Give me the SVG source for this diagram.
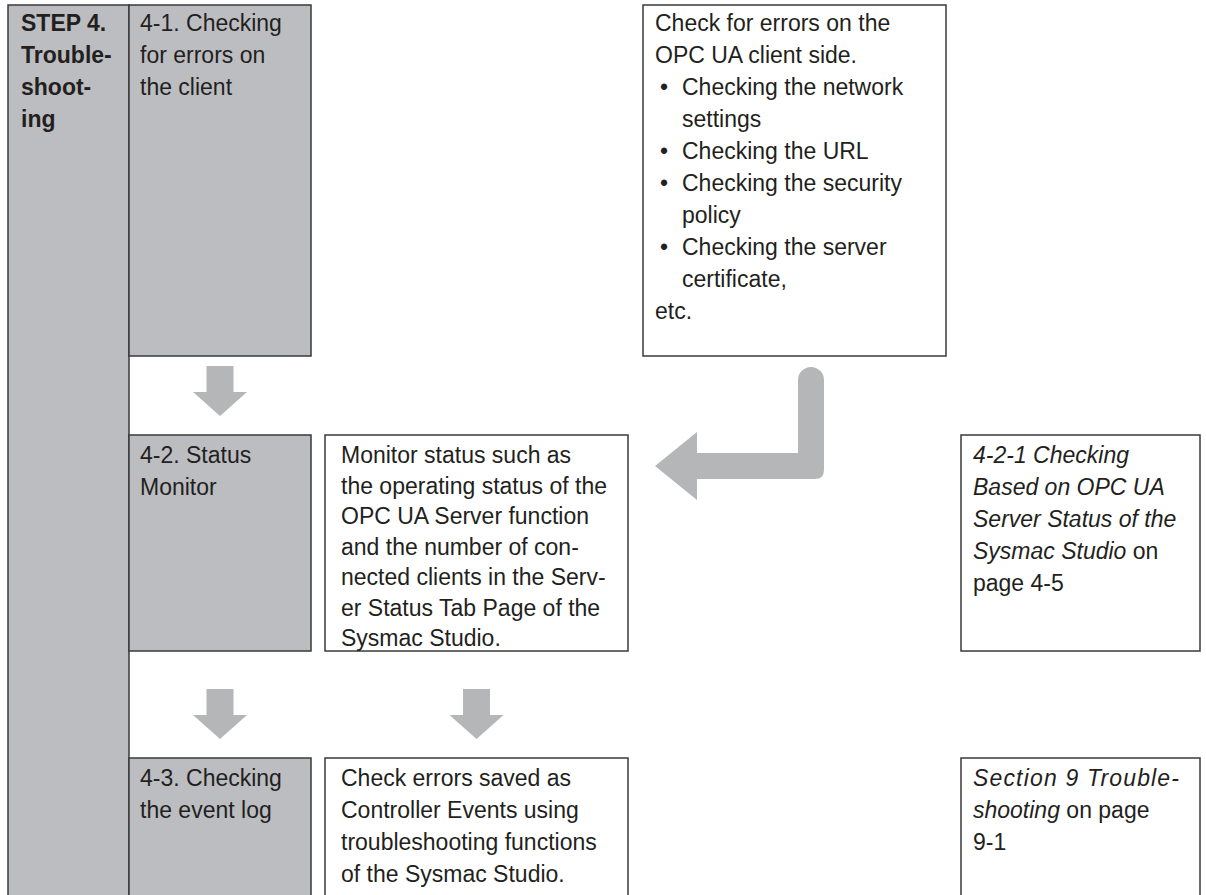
<svg xmlns="http://www.w3.org/2000/svg" width="1206" height="895" viewBox="0 0 1206 895">
<style>
.g{fill:#bcbdc1;stroke:#3a3a3a;stroke-width:1.5}
.w{fill:#ffffff;stroke:#3a3a3a;stroke-width:1.5}
.t{font-family:"Liberation Sans",Arial,sans-serif;font-size:23px;fill:#231f20}
.b{font-weight:bold}
.i{font-style:italic}
.ar{fill:#b5b6b8}
</style>
<rect width="1206" height="895" fill="#ffffff"/>
<g id="step4">
<rect class="g" x="8" y="5" width="121" height="910"/>
<text class="t b" x="21" y="31">STEP 4.</text>
<text class="t b" x="21" y="63">Trouble-</text>
<text class="t b" x="21" y="95">shoot-</text>
<text class="t b" x="21" y="127">ing</text>
</g>
<g id="n41">
<rect class="g" x="129" y="5" width="182" height="351"/>
<text class="t" x="140" y="31">4-1. Checking</text>
<text class="t" x="140" y="63">for errors on</text>
<text class="t" x="140" y="95">the client</text>
</g>
<g id="client">
<rect class="w" x="643" y="5" width="303" height="351"/>
<text class="t" x="655" y="31">Check for errors on the</text>
<text class="t" x="655" y="63">OPC UA client side.</text>
<text class="t" x="660" y="95">•</text><text class="t" x="682" y="95">Checking the network</text>
<text class="t" x="682" y="127">settings</text>
<text class="t" x="660" y="159">•</text><text class="t" x="682" y="159">Checking the URL</text>
<text class="t" x="660" y="191">•</text><text class="t" x="682" y="191">Checking the security</text>
<text class="t" x="682" y="223">policy</text>
<text class="t" x="660" y="255">•</text><text class="t" x="682" y="255">Checking the server</text>
<text class="t" x="682" y="287">certificate,</text>
<text class="t" x="655" y="319">etc.</text>
</g>
<g id="n42">
<rect class="g" x="129" y="435" width="182" height="216"/>
<text class="t" x="140" y="463">4-2. Status</text>
<text class="t" x="140" y="495">Monitor</text>
</g>
<g id="monitor">
<rect class="w" x="325" y="435" width="303" height="216"/>
<text class="t" x="341" y="463">Monitor status such as</text>
<text class="t" x="341" y="493.5">the operating status of the</text>
<text class="t" x="341" y="524">OPC UA Server function</text>
<text class="t" x="341" y="554.5">and the number of con-</text>
<text class="t" x="341" y="585">nected clients in the Serv-</text>
<text class="t" x="341" y="615.5">er Status Tab Page of the</text>
<text class="t" x="341" y="646">Sysmac Studio.</text>
</g>
<g id="ref421">
<rect class="w" x="961" y="435" width="239" height="216"/>
<text class="t i" x="973" y="463">4-2-1 Checking</text>
<text class="t i" x="973" y="495">Based on OPC UA</text>
<text class="t i" x="973" y="527">Server Status of the</text>
<text class="t" x="973" y="559"><tspan class="i">Sysmac Studio</tspan> on</text>
<text class="t" x="973" y="591">page 4-5</text>
</g>
<g id="n43">
<rect class="g" x="129" y="758" width="182" height="160"/>
<text class="t" x="140" y="786">4-3. Checking</text>
<text class="t" x="140" y="818">the event log</text>
</g>
<g id="events">
<rect class="w" x="325" y="758" width="303" height="160"/>
<text class="t" x="341" y="786">Check errors saved as</text>
<text class="t" x="341" y="818">Controller Events using</text>
<text class="t" x="341" y="850">troubleshooting functions</text>
<text class="t" x="341" y="882">of the Sysmac Studio.</text>
</g>
<g id="ref9">
<rect class="w" x="961" y="758" width="239" height="160"/>
<text class="t i" x="973" y="786" textLength="206" lengthAdjust="spacing">Section 9 Trouble-</text>
<text class="t" x="973" y="818"><tspan class="i">shooting</tspan> on page</text>
<text class="t" x="973" y="850">9-1</text>
</g>
<g id="connectors">
<path class="ar" d="M206.5,366 h27 v26 h13.5 l-27,24 l-27,-24 h13.5 z"/>
<path class="ar" d="M206.5,689 h27 v26 h13.5 l-27,24 l-27,-24 h13.5 z"/>
<path class="ar" d="M463,689 h27 v26 h13.5 l-27,24 l-27,-24 h13.5 z"/>
<path class="ar" d="M798,380 A13,13 0 0 1 824,380 V470 Q824,479 815,479 H697 V500 L655,466 L697,432 V453 H798 Z"/>
</g>
</svg>
